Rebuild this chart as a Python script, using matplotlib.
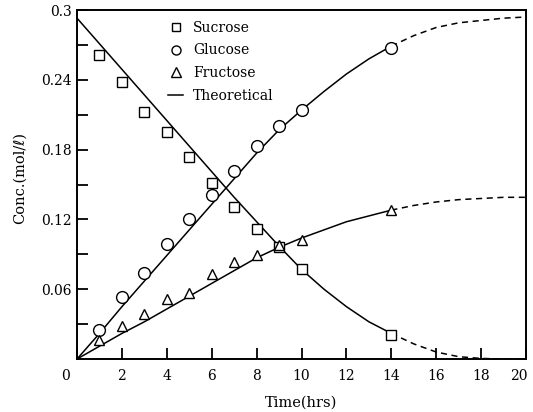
import matplotlib
matplotlib.use('Agg')
import matplotlib.pyplot as plt
import matplotlib.transforms as mtransforms
from matplotlib.lines import Line2D
import numpy as np

plt.rcParams['font.family'] = ['DejaVu Serif', 'DejaVu Sans']

# measured points
t_obs = [1, 2, 3, 4, 5, 6, 7, 8, 9, 10, 14]
sucrose = [0.261, 0.238, 0.212, 0.195, 0.174, 0.151, 0.131, 0.112, 0.096, 0.077, 0.021]
glucose = [0.025, 0.053, 0.074, 0.099, 0.120, 0.141, 0.162, 0.183, 0.200, 0.214, 0.267]
fructose = [0.016, 0.028, 0.039, 0.052, 0.057, 0.073, 0.083, 0.089, 0.098, 0.102, 0.128]

# theoretical curves, one value per hour
t_th = list(range(21))
sucrose_th = [0.293, 0.271, 0.249, 0.227, 0.205, 0.183, 0.161, 0.139, 0.118, 0.097, 0.077,
              0.060, 0.045, 0.032, 0.022, 0.013, 0.006, 0.002, 0.0005, 0.0, 0.0]
glucose_th = [0.0, 0.022, 0.045, 0.067, 0.089, 0.111, 0.133, 0.155, 0.177, 0.197, 0.214,
              0.230, 0.245, 0.258, 0.269, 0.278, 0.285, 0.289, 0.291, 0.293, 0.294]
fructose_th = [0.0, 0.011, 0.022, 0.032, 0.043, 0.054, 0.065, 0.076, 0.087, 0.096, 0.104,
               0.111, 0.118, 0.123, 0.128, 0.132, 0.135, 0.137, 0.138, 0.139, 0.139]
t_solid_end = 14

fig = plt.figure(figsize=(5.33, 4.12), dpi=100)
ax = fig.add_axes([0.1445, 0.1286, 0.8425, 0.8471])

t_th = np.array(t_th)
solid = t_th <= t_solid_end
dashed = t_th >= t_solid_end
for curve in (sucrose_th, glucose_th, fructose_th):
    curve = np.array(curve)
    ax.plot(t_th[solid], curve[solid], color='black', lw=1.1)
    ax.plot(t_th[dashed], curve[dashed], color='black', lw=1.1, ls=(0, (4, 3)))

mk = dict(ls='none', mfc='white', mec='black', mew=1.0)
ax.plot(t_obs, sucrose, marker='s', ms=7.5, **mk)
ax.plot(t_obs, glucose, marker='o', ms=8.5, **mk)
ax.plot(t_obs, fructose, marker='^', ms=7.5, **mk)

ax.set_xlim(0, 20)
ax.set_ylim(0, 0.3)
ax.set_xticks(range(0, 21, 2))
ax.set_yticks([0.06, 0.12, 0.18, 0.24, 0.3])
ax.set_yticklabels(['0.06', '0.12', '0.18', '0.24', '0.3'])
ax.set_yticks(np.arange(0.03, 0.3, 0.06), minor=True)
ax.tick_params(direction='in', length=8, width=1.3, labelsize=10)
ax.tick_params(axis='x', pad=7)
ax.tick_params(axis='y', pad=4)
ax.tick_params(which='minor', direction='in', length=8, width=1.3)
for sp in ax.spines.values():
    sp.set_linewidth(1.4)

# the "0" sits a little left of the origin, the "20" a little left of the edge
xlabels = ax.get_xticklabels()
for lbl, dx in ((xlabels[0], -8), (xlabels[-1], -5)):
    shift = mtransforms.ScaledTranslation(dx / 72, 0, fig.dpi_scale_trans)
    lbl.set_transform(lbl.get_transform() + shift)

ax.set_xlabel('Time(hrs)', fontsize=10.5)
ax.xaxis.set_label_coords(0.5, -0.105)
ax.set_ylabel('Conc.(mol/ℓ)', fontsize=10.5)
ax.yaxis.set_label_coords(-0.112, 0.52)

handles = [
    Line2D([], [], marker='s', ms=6, **mk),
    Line2D([], [], marker='o', ms=6.5, **mk),
    Line2D([], [], marker='^', ms=6.5, **mk),
    Line2D([], [], color='black', lw=1.1),
]
ax.legend(handles, ['Sucrose', 'Glucose', 'Fructose', 'Theoretical'],
          loc='upper left', bbox_to_anchor=(0.175, 1.005), frameon=False,
          fontsize=10, handlelength=1.1, handletextpad=0.7, labelspacing=0.62)

fig.savefig('out.png', dpi=100)
